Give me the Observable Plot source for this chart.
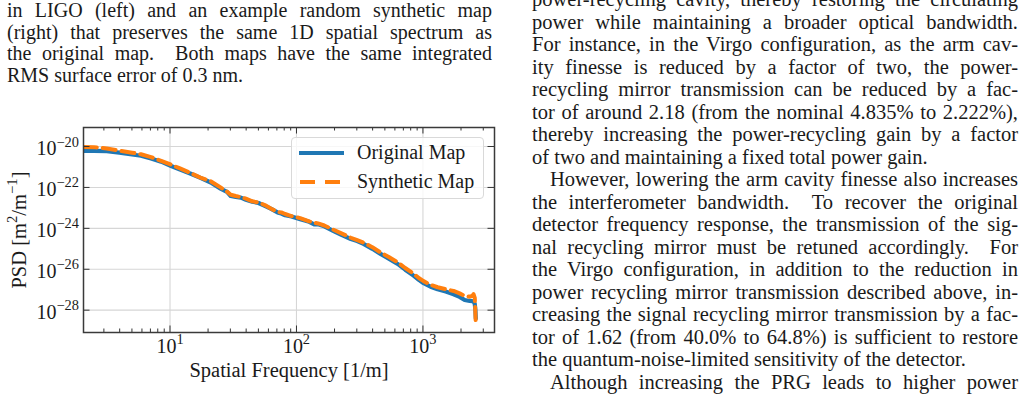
<!DOCTYPE html>
<html>
<head>
<meta charset="utf-8">
<script src="https://cdn.jsdelivr.net/npm/d3@7"></script>
<script src="https://cdn.jsdelivr.net/npm/@observablehq/plot@0.6"></script>
<style>
  html, body { margin: 0; padding: 0; background: #fff; }
  #page { position: relative; width: 1028px; height: 405px; overflow: hidden;
          font-family: "Liberation Serif", serif; color: #1a1a1a; }
  .col { position: absolute; }
  .col div { text-align: justify; text-align-last: justify; }
  .col div.last { text-align-last: left; }
  .col div.indent { text-indent: 18px; }
  #caption { left: 7px; top: 0px; width: 485px; font-size: 20px; line-height: 21.7px; }
  #body { left: 532px; top: -12px; width: 486px; font-size: 20.5px; line-height: 22.5px; }
  #chart { position: absolute; left: 0; top: 117px; }
  #legend { position: absolute; left: 291px; top: 137px; width: 193px; height: 62px;
            box-sizing: border-box; border: 1px solid #d9d9d9; border-radius: 4px;
            background: rgba(255,255,255,0.8); }
  #legend svg { position: absolute; left: 0; top: 0; }
  #legend span { position: absolute; left: 65px; font-size: 20px; line-height: 22px; white-space: nowrap; }
</style>
</head>
<body>
<div id="page">
  <div id="caption" class="col"></div>
  <div id="body" class="col"></div>
  <div id="chart"></div>
  <div id="legend"></div>
</div>
<script>
// ---- Surrounding text (one entry per typeset line) ----
const captionLines = [
  "in LIGO (left) and an example random synthetic map",
  "(right) that preserves the same 1D spatial spectrum as",
  "the original map.\u00a0 Both maps have the same integrated",
  "RMS surface error of 0.3 nm."
];
const captionLast = [3];

const bodyLines = [
  "power-recycling cavity, thereby restoring the circulating",
  "power while maintaining a broader optical bandwidth.",
  "For instance, in the Virgo configuration, as the arm cav-",
  "ity finesse is reduced by a factor of two, the power-",
  "recycling mirror transmission can be reduced by a fac-",
  "tor of around 2.18 (from the nominal 4.835% to 2.222%),",
  "thereby increasing the power-recycling gain by a factor",
  "of two and maintaining a fixed total power gain.",
  "However, lowering the arm cavity finesse also increases",
  "the interferometer bandwidth.\u00a0 To recover the original",
  "detector frequency response, the transmission of the sig-",
  "nal recycling mirror must be retuned accordingly.\u00a0 For",
  "the Virgo configuration, in addition to the reduction in",
  "power recycling mirror transmission described above, in-",
  "creasing the signal recycling mirror transmission by a fac-",
  "tor of 1.62 (from 40.0% to 64.8%) is sufficient to restore",
  "the quantum-noise-limited sensitivity of the detector.",
  "Although increasing the PRG leads to higher power"
];
const bodyLast = [7, 16];
const bodyIndent = [8, 17];

// ---- PSD data ----
// spatial frequency [1/m]
const freq = [
  2.08, 2.51, 3.16, 3.98, 5.01, 5.89, 7.08, 8.51, 10.1, 12.0,
  14.6, 17.4, 21.0, 25.1, 28.2, 30.2, 33.1, 36.3, 39.8, 44.7,
  50.1, 56.2, 63.1, 70.8, 75.9, 81.3, 91.2, 107, 126, 138,
  148, 166, 195, 229, 269, 302, 339, 398, 462, 537,
  631, 724, 843, 933, 1012, 1148, 1306, 1514, 1746, 1950,
  2138, 2344, 2455, 2512, 2570, 2600, 2618
];
// PSD of the measured surface map [m^2/m^-1]
const originalPSD = [
  6.17e-21, 6.17e-21, 5.89e-21, 5.01e-21, 4.07e-21, 3.55e-21, 2.63e-21, 1.82e-21, 1.15e-21, 7.41e-22,
  4.68e-22, 2.95e-22, 1.74e-22, 8.71e-23, 6.03e-23, 3.80e-23, 3.39e-23, 3.16e-23, 2.51e-23, 2.00e-23,
  1.74e-23, 1.26e-23, 8.91e-24, 6.03e-24, 5.25e-24, 4.37e-24, 3.80e-24, 2.82e-24, 2.09e-24, 1.58e-24,
  1.58e-24, 1.26e-24, 7.59e-25, 4.68e-25, 3.02e-25, 2.40e-25, 1.74e-25, 1.00e-25, 5.62e-26, 3.31e-26,
  1.82e-26, 9.55e-27, 4.90e-27, 2.95e-27, 2.09e-27, 1.41e-27, 1.05e-27, 8.13e-28, 6.03e-28, 4.47e-28,
  3.16e-28, 2.82e-28, 2.75e-28, 2.63e-28, 2.00e-28, 1.00e-28, 3.98e-29
];
// PSD of the random synthetic map [m^2/m^-1]
const syntheticPSD = [
  9.55e-21, 9.33e-21, 7.94e-21, 6.31e-21, 5.01e-21, 4.17e-21, 3.02e-21, 2.00e-21, 1.32e-21, 8.51e-22,
  5.01e-22, 3.02e-22, 2.00e-22, 1.00e-22, 6.31e-23, 4.37e-23, 3.80e-23, 3.39e-23, 2.82e-23, 2.09e-23,
  1.82e-23, 1.38e-23, 9.12e-24, 6.31e-24, 6.03e-24, 5.01e-24, 3.98e-24, 3.16e-24, 2.19e-24, 1.91e-24,
  1.74e-24, 1.38e-24, 8.71e-25, 5.50e-25, 3.47e-25, 2.63e-25, 2.00e-25, 1.20e-25, 6.61e-26, 3.98e-26,
  2.19e-26, 1.15e-26, 6.03e-27, 3.63e-27, 2.63e-27, 1.74e-27, 1.32e-27, 1.05e-27, 8.71e-28, 6.61e-28,
  5.01e-28, 4.57e-28, 5.01e-28, 6.03e-28, 3.98e-28, 6.31e-29, 2.24e-29
];

const seriesNames = ["Original Map", "Synthetic Map"];
const seriesColors = ["#1f77b4", "#ff7f0e"];

// ---- Axes ----
const xMajor = [10, 100, 1000];
const xTickLabels = ["10^{1}", "10^{2}", "10^{3}"];
const xMinor = [3, 4, 5, 6, 7, 8, 9, 20, 30, 40, 50, 60, 70, 80, 90,
                200, 300, 400, 500, 600, 700, 800, 900, 2000, 3000];
const yMajor = [1e-28, 1e-26, 1e-24, 1e-22, 1e-20];
const yTickLabels = ["10^{\u221228}", "10^{\u221226}", "10^{\u221224}", "10^{\u221222}", "10^{\u221220}"];
const xLabel = "Spatial Frequency [1/m]";
const yLabel = "PSD [m^{2}/m^{\u22121}]";

// ---- Text columns ----
function fillColumn(el, lines, lastIdx, indentIdx) {
  lines.forEach((t, i) => {
    const d = document.createElement("div");
    d.textContent = t;
    if (lastIdx.includes(i)) d.classList.add("last");
    if (indentIdx.includes(i)) d.classList.add("indent");
    el.appendChild(d);
  });
}
fillColumn(document.getElementById("caption"), captionLines, captionLast, []);
fillColumn(document.getElementById("body"), bodyLines, bodyLast, bodyIndent);
// keep each entry on a single line
document.querySelectorAll(".col div").forEach(d => {
  const lh = parseFloat(getComputedStyle(d).lineHeight);
  let ls = 0;
  while (d.offsetHeight > lh * 1.4 && ls > -1.5) {
    ls -= 0.05;
    d.style.letterSpacing = ls + "px";
  }
});

// ---- Chart ----
const W = 500, H = 270, mL = 83, mR = 6, mT = 10, mB = 55;
const fw = W - mL - mR, fh = H - mT - mB;
const original = freq.map((f, i) => ({f, psd: originalPSD[i]}));
const synthetic = freq.map((f, i) => ({f, psd: syntheticPSD[i]}));
const tickColor = "#333";

const chart = Plot.plot({
  width: W, height: H,
  marginLeft: mL, marginRight: mR, marginTop: mT, marginBottom: mB,
  style: {fontFamily: "'Liberation Serif', serif", fontSize: "20px", color: "#1a1a1a", background: "transparent", overflow: "visible"},
  x: {type: "log", domain: [2.07, 3680]},
  y: {type: "log", domain: [8.1e-30, 8.5e-20]},
  marks: [
    Plot.gridX(xMajor, {stroke: "#d6d6d6", strokeOpacity: 1, strokeWidth: 1.1}),
    Plot.gridY(yMajor, {stroke: "#d6d6d6", strokeOpacity: 1, strokeWidth: 1.1}),
    Plot.line(original, {x: "f", y: "psd", stroke: seriesColors[0], strokeWidth: 4.2, clip: true}),
    Plot.line(synthetic, {x: "f", y: "psd", stroke: seriesColors[1], strokeWidth: 4, strokeDasharray: "13,6", clip: true}),
    // inward ticks on all four sides
    Plot.tickX(xMajor, {x: d => d, insetTop: fh - 6.5, stroke: tickColor}),
    Plot.tickX(xMajor, {x: d => d, insetBottom: fh - 6.5, stroke: tickColor}),
    Plot.tickX(xMinor, {x: d => d, insetTop: fh - 3.5, stroke: tickColor}),
    Plot.tickX(xMinor, {x: d => d, insetBottom: fh - 3.5, stroke: tickColor}),
    Plot.tickY(yMajor, {y: d => d, insetRight: fw - 6.5, stroke: tickColor}),
    Plot.tickY(yMajor, {y: d => d, insetLeft: fw - 6.5, stroke: tickColor}),
    Plot.frame({stroke: "#3a3a3a", strokeWidth: 1.5}),
    Plot.axisX(xMajor, {tickSize: 0, tickPadding: 6, label: null,
      tickFormat: d => xTickLabels[xMajor.indexOf(d)]}),
    Plot.axisY(yMajor, {tickSize: 0, tickPadding: 4.5, label: null, dy: 2,
      tickFormat: d => yTickLabels[yMajor.indexOf(d)]}),
    Plot.text([xLabel], {frameAnchor: "bottom", lineAnchor: "middle", textAnchor: "middle", dy: 38, fontSize: 20.5}),
    Plot.text([yLabel], {frameAnchor: "left", lineAnchor: "middle", textAnchor: "middle", dx: -64, rotate: -90, fontSize: 20.5})
  ]
});
document.getElementById("chart").appendChild(chart);

// Render "^{...}" as raised, smaller tspans
function typesetSuperscripts(root) {
  d3.select(root).selectAll("text").each(function() {
    const s = this.textContent;
    if (!s.includes("^{")) return;
    const fs = parseFloat(getComputedStyle(this).fontSize);
    const rise = fs * 0.42;
    const el = d3.select(this);
    el.text(null);
    const parts = s.split(/\^\{([^}]*)\}/);
    let raised = false;
    parts.forEach((p, k) => {
      if (!p) return;
      const sup = k % 2 === 1;
      const ts = el.append("tspan").text(p);
      if (sup) {
        ts.attr("font-size", (fs * 0.72) + "px").attr("dy", raised ? 0 : -rise);
        raised = true;
      } else if (raised) {
        ts.attr("dy", rise);
        raised = false;
      }
    });
  });
}
typesetSuperscripts(chart);

// ---- Legend ----
const legend = d3.select("#legend");
const lsvg = legend.append("svg").attr("width", 193).attr("height", 62);
lsvg.append("line").attr("x1", 7).attr("x2", 52).attr("y1", 15).attr("y2", 15)
  .attr("stroke", seriesColors[0]).attr("stroke-width", 4.2);
lsvg.append("line").attr("x1", 8).attr("x2", 52).attr("y1", 44).attr("y2", 44)
  .attr("stroke", seriesColors[1]).attr("stroke-width", 4).attr("stroke-dasharray", "15,10");
seriesNames.forEach((name, i) => {
  legend.append("span").style("top", (i === 0 ? 3 : 32) + "px").text(name);
});
</script>
</body>
</html>
